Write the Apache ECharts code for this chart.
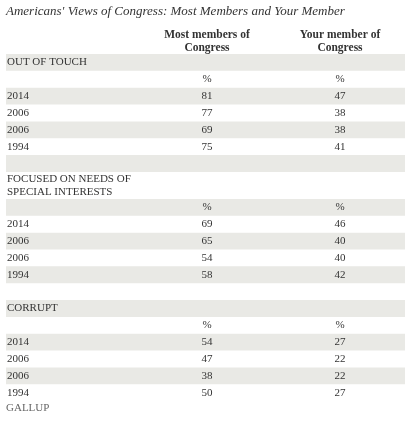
<!DOCTYPE html>
<html>
<head>
<meta charset="utf-8">
<script src="https://cdn.jsdelivr.net/npm/echarts@6/dist/echarts.min.js"></script>
<style>
  html, body { margin: 0; padding: 0; background: #fff; }
  #main { width: 411px; height: 426px; }
</style>
</head>
<body>
<div id="main"></div>
<script>
// Data
const title = "Americans' Views of Congress: Most Members and Your Member";
const columns = ['Most members of\nCongress', 'Your member of\nCongress'];
const sections = ['OUT OF TOUCH', 'FOCUSED ON NEEDS OF\nSPECIAL INTERESTS', 'CORRUPT'];
const years = ['2014', '2006', '2006', '1994'];
const mostMembers = [
    [81, 77, 69, 75],
    [69, 65, 54, 58],
    [54, 47, 38, 50]
];
const yourMember = [
    [47, 38, 38, 41],
    [46, 40, 40, 42],
    [27, 22, 22, 27]
];

const font = '"Liberation Serif", "DejaVu Serif", serif';
const textColor = '#333';
const shade = '#e9e9e5';
const left = 6, right = 405;
const colX = [207, 340];
const rowH = 16.85;

// Build row list
const rows = [];
sections.forEach((sec, s) => {
    rows.push({ label: sec, tall: sec.includes('\n') });
    rows.push({ label: '', values: ['%', '%'] });
    years.forEach((yr, i) => {
        rows.push({ label: yr, values: [String(mostMembers[s][i]), String(yourMember[s][i])] });
    });
    if (s < sections.length - 1) rows.push({ label: '', blank: true });
});

const elements = [];
elements.push({
    type: 'text', left: left, top: 5,
    style: { text: title, font: 'italic 13px ' + font, fill: textColor }
});
columns.forEach((c, i) => {
    elements.push({
        type: 'text', x: colX[i], y: 29,
        style: { text: c, font: 'bold 11.5px ' + font, fill: textColor, align: 'center', lineHeight: 13 }
    });
});

let y = 54;
rows.forEach((r, idx) => {
    const h = r.tall ? 27 : rowH;
    if (idx % 2 === 0) {
        elements.push({ type: 'rect', shape: { x: left, y: y, width: right - left, height: h }, style: { fill: shade } });
    }
    if (r.label) {
        elements.push({
            type: 'text', x: left + 1, y: y + h / 2,
            style: { text: r.label, font: '11px ' + font, fill: textColor, verticalAlign: 'middle', lineHeight: 13 }
        });
    }
    if (r.values) {
        r.values.forEach((v, i) => {
            elements.push({
                type: 'text', x: colX[i], y: y + h / 2,
                style: { text: v, font: '11px ' + font, fill: textColor, align: 'center', verticalAlign: 'middle' }
            });
        });
    }
    y += h;
});

elements.push({
    type: 'text', x: left, y: 408,
    style: { text: 'GALLUP', font: '11px ' + font, fill: '#666', verticalAlign: 'middle' }
});

const chart = echarts.init(document.getElementById('main'));
chart.setOption({ animation: false, graphic: elements });
</script>
</body>
</html>
